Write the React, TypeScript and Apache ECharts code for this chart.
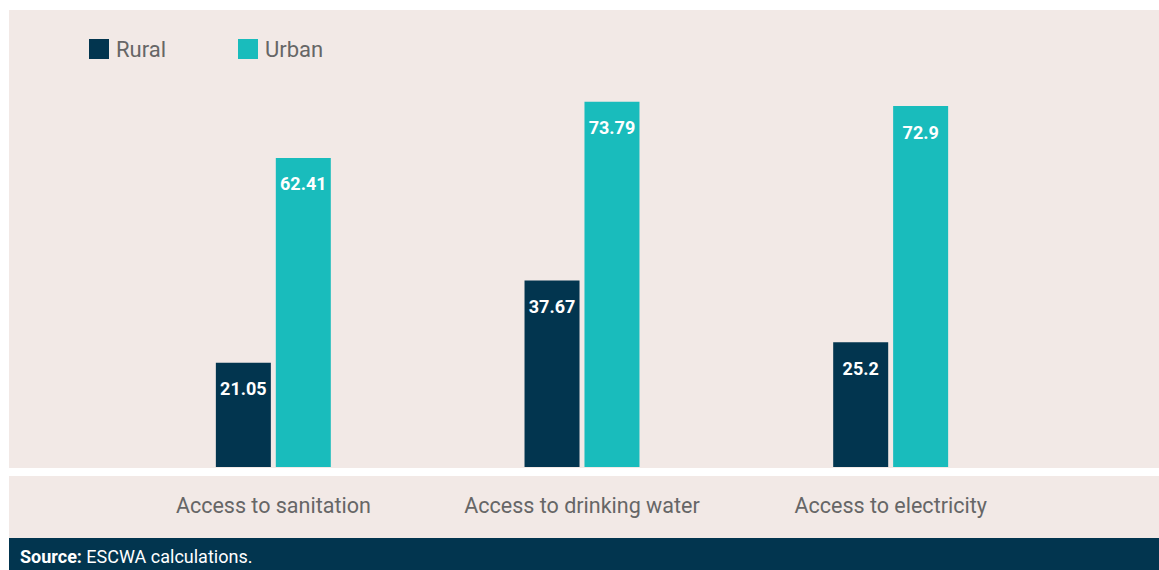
import React, { useEffect, useRef } from "react";
import * as echarts from "echarts";

const categories = ["Access to sanitation", "Access to drinking water", "Access to electricity"];
const rural = [21.05, 37.67, 25.2];
const urban = [62.41, 73.79, 72.9];
const seriesNames = ["Rural", "Urban"];

const FONT = "Roboto, sans-serif";

export default function App() {
  const ref = useRef<HTMLDivElement>(null);
  useEffect(() => {
    const chart = echarts.init(ref.current!, null, { renderer: "svg" });
    const labelStyle = {
      show: true,
      position: "insideTop",
      distance: 17,
      color: "#ffffff",
      fontFamily: FONT,
      fontWeight: "bold",
      fontSize: 18,
    };
    chart.setOption({
      animation: false,
      backgroundColor: "#ffffff",
      graphic: [
        { type: "rect", z: -10, shape: { x: 9, y: 10, width: 1150, height: 458 }, style: { fill: "#f2e9e6" } },
        { type: "rect", z: -10, shape: { x: 9, y: 476, width: 1150, height: 62 }, style: { fill: "#f2e9e6" } },
        { type: "rect", z: -10, shape: { x: 9, y: 538, width: 1150, height: 32 }, style: { fill: "#02354f" } },
        {
          type: "text",
          z: 10,
          x: 20,
          y: 556,
          style: {
            text: "{b|Source:} ESCWA calculations.",
            fill: "#ffffff",
            font: `18px ${FONT}`,
            verticalAlign: "middle",
            rich: {
              b: { fontWeight: "bold", fontSize: 18, fontFamily: FONT, fill: "#ffffff", color: "#ffffff" },
            },
          },
        },
      ],
      legend: {
        left: 84,
        top: 33,
        itemWidth: 20,
        itemHeight: 20,
        itemGap: 72,
        icon: "rect",
        data: seriesNames,
        textStyle: { color: "#666666", fontFamily: FONT, fontSize: 22, padding: [0, 0, 0, 2] },
      },
      grid: { left: 119, right: 114, top: 10, bottom: 103 },
      xAxis: {
        type: "category",
        data: categories,
        axisLine: { show: false },
        axisTick: { show: false },
        axisLabel: { color: "#666666", fontFamily: FONT, fontSize: 21.5, margin: 27, interval: 0 },
      },
      yAxis: { type: "value", min: 0, max: 92.3, show: false, splitLine: { show: false } },
      series: [
        { name: seriesNames[0], type: "bar", data: rural, barWidth: 55, barGap: "9%", itemStyle: { color: "#02354f" }, label: labelStyle },
        { name: seriesNames[1], type: "bar", data: urban, barWidth: 55, itemStyle: { color: "#19bcbc" }, label: labelStyle },
      ],
    });
    return () => chart.dispose();
  }, []);
  return <div ref={ref} style={{ position: "fixed", left: 0, top: 0, width: 1159, height: 570 }} />;
}
